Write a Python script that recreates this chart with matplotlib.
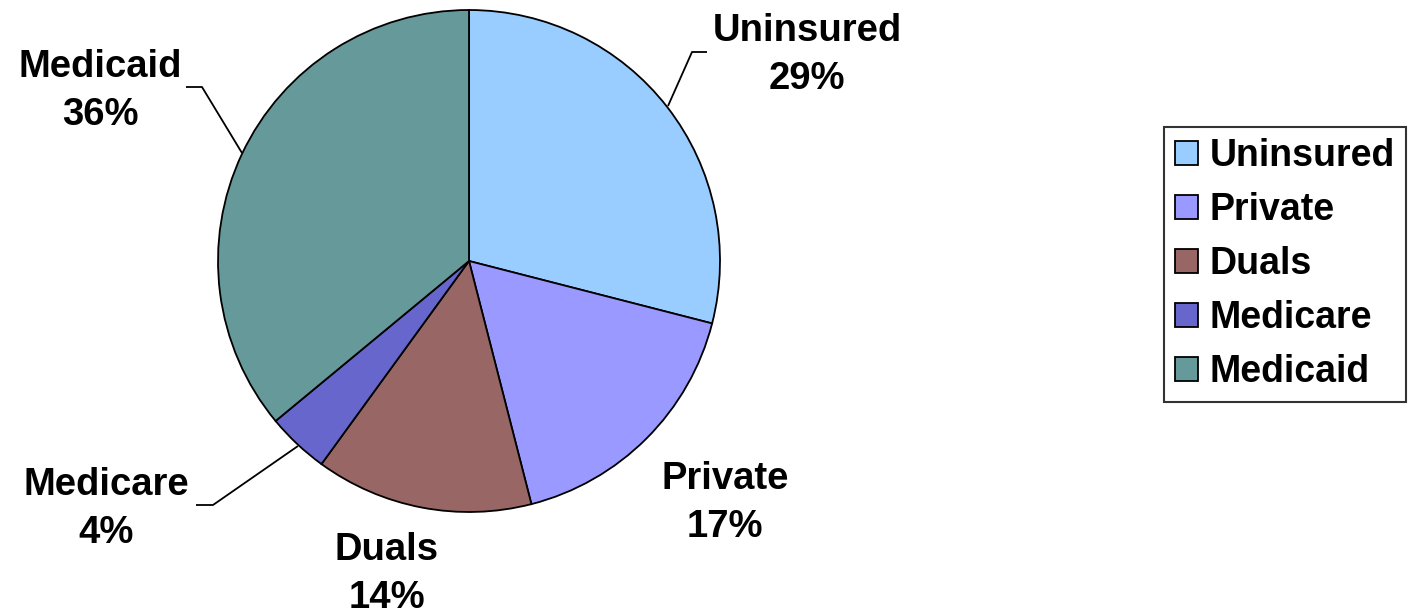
import matplotlib
matplotlib.use("Agg")
import matplotlib.pyplot as plt

categories = ["Uninsured", "Private", "Duals", "Medicare", "Medicaid"]
shares = [29, 17, 14, 4, 36]
colors = ["#99CCFF", "#9999FF", "#996666", "#6666CC", "#669999"]

W, H = 1412, 615
plt.rcParams["font.family"] = ["Liberation Sans", "DejaVu Sans"]

fig = plt.figure(figsize=(W / 100, H / 100), dpi=100)
ax = fig.add_axes([0, 0, 1, 1])

cx, cy, r = 469, H - 261, 251
wedges, _ = ax.pie(shares, colors=colors, startangle=90, counterclock=False,
                   center=(cx, cy), radius=r, frame=True,
                   wedgeprops=dict(edgecolor="black", linewidth=1.3))
ax.set_xlim(0, W)
ax.set_ylim(0, H)
ax.set_aspect("equal")
ax.axis("off")

# label anchor points (text centre) for each slice
label_pos = [(807, H - 55), (725, H - 503), (387, H - 574), (106, H - 509), (100, H - 91)]
for name, val, (lx, ly) in zip(categories, shares, label_pos):
    ax.text(lx, ly, f"{name}\n{val}%", ha="center", va="center",
            fontsize=27.5, fontweight="bold", linespacing=1.40)

# leader lines for labels placed away from their slices
leaders = [
    [(668, 106), (692, 52), (707, 52)],
    [(298, 446), (213, 505), (196, 505)],
    [(242, 153), (202, 87), (186, 87)],
]
for pts in leaders:
    xs = [p[0] for p in pts]
    ys = [H - p[1] for p in pts]
    ax.plot(xs, ys, color="black", linewidth=1.3, solid_capstyle="butt")

leg = fig.legend(wedges, categories, loc="upper left",
                 bbox_to_anchor=(1164 / W, 1 - 127 / H),
                 prop=dict(weight="bold", size=27),
                 frameon=True, fancybox=False, edgecolor="black",
                 handlelength=0.6, handleheight=0.6, handletextpad=0.32,
                 labelspacing=0.48, borderpad=0.3, borderaxespad=0)
leg.get_frame().set_linewidth(1.5)

fig.savefig("out.png", dpi=100)
